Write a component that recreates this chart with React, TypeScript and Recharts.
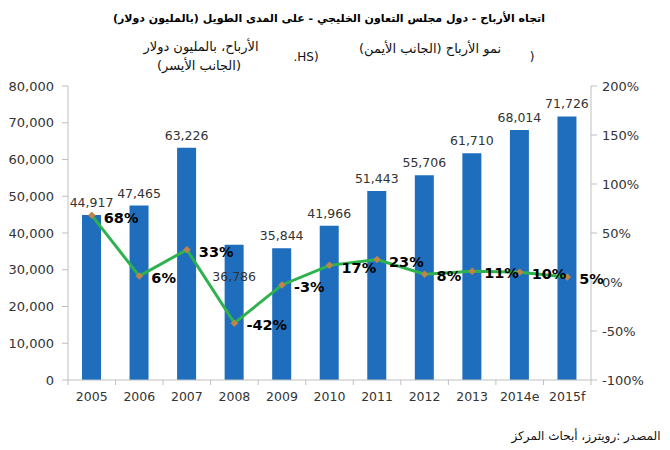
import React from 'react';
import { ComposedChart, Bar, Line, XAxis, YAxis, LabelList } from 'recharts';

// Categories and series
const years = ['2005', '2006', '2007', '2008', '2009', '2010', '2011', '2012', '2013', '2014e', '2015f'];
const profits = [44917, 47465, 63226, 36786, 35844, 41966, 51443, 55706, 61710, 68014, 71726];
const growth = [68, 6, 33, -42, -3, 17, 23, 8, 11, 10, 5];

// Axis ticks
const profitTicks = [0, 10000, 20000, 30000, 40000, 50000, 60000, 70000, 80000];
const growthTicks = [-100, -50, 0, 50, 100, 150, 200];

const data = years.map((year, i) => ({ year, profit: profits[i], growth: growth[i] }));

const W = 670;
const H = 450;
const NUM_FONT = "'DejaVu Sans', Verdana, sans-serif";
const AR_FONT = "'DejaVu Sans', Arial, sans-serif";
const BAR_COLOR = '#1F6EBD';
const LINE_COLOR = '#2DB24E';
const MARKER_COLOR = '#C0834A';
const AXIS_COLOR = '#BFBFBF';
const TEXT_COLOR = '#333333';

const X_TICK_SIZE = 5;
const X_TICK_MARGIN = 7;

const fmtThousands = (v: number) => v.toLocaleString('en-US');

// Year label with tick marks sitting between categories
const YearTick = (props: any) => {
  const { x, y, payload, index } = props;
  const half = payload && typeof payload.offset === 'number' && payload.offset > 0 ? payload.offset : 23.8;
  const axisY = y - X_TICK_SIZE - X_TICK_MARGIN;
  const isLast = index === years.length - 1;
  return (
    <g>
      <line x1={x - half} x2={x - half} y1={axisY} y2={axisY + 5} stroke={AXIS_COLOR} />
      {isLast && <line x1={x + half} x2={x + half} y1={axisY} y2={axisY + 5} stroke={AXIS_COLOR} />}
      <text x={x} y={y} dy="0.71em" textAnchor="middle" fontSize={12.5} fill={TEXT_COLOR} fontFamily={NUM_FONT}>
        {payload.value}
      </text>
    </g>
  );
};

// Value label above each bar; the 2008 label drops below the bar top to clear the line
const ProfitLabel = (props: any) => {
  const { x, y, width, value, index } = props;
  const lowered = years[index] === '2008';
  const cx = Number(x) + Number(width) / 2;
  const ty = lowered ? Number(y) + 36 : Number(y) - 8;
  return (
    <text x={cx} y={ty} textAnchor="middle" fontSize={12.5} fill={TEXT_COLOR} fontFamily={NUM_FONT}>
      {fmtThousands(Number(value))}
    </text>
  );
};

// Bold percentage to the right of each growth point
const GrowthLabel = (props: any) => {
  const { x, y, value } = props;
  return (
    <text x={Number(x) + 12} y={Number(y) + 2} dy="0.36em" fontSize={14.5} fontWeight="bold" fill="#000" fontFamily={NUM_FONT}>
      {`${value}%`}
    </text>
  );
};

const DiamondDot = (props: any) => {
  const { cx, cy, index } = props;
  if (cx == null || cy == null) return <g key={`d-${index}`} />;
  const r = 3.5;
  return (
    <polygon
      key={`d-${index}`}
      points={`${cx},${cy - r} ${cx + r},${cy} ${cx},${cy + r} ${cx - r},${cy}`}
      fill={MARKER_COLOR}
      stroke={MARKER_COLOR}
      strokeWidth={0.5}
    />
  );
};

export default function App() {
  return (
    <div style={{ position: 'absolute', left: 0, top: 0, width: W, height: H, background: '#fff' }}>
      <ComposedChart width={W} height={H} data={data} margin={{ top: 86, right: 0, bottom: 40, left: 0 }}>
        <XAxis
          dataKey="year"
          xAxisId="x"
          height={30}
          axisLine={{ stroke: AXIS_COLOR }}
          tickLine={false}
          tickSize={X_TICK_SIZE}
          tickMargin={X_TICK_MARGIN}
          tick={<YearTick />}
          interval={0}
        />
        <YAxis
          yAxisId="left"
          domain={[0, 80000]}
          ticks={profitTicks}
          tickFormatter={fmtThousands}
          width={68}
          tickSize={6}
          tickMargin={8}
          axisLine={{ stroke: AXIS_COLOR }}
          tickLine={{ stroke: AXIS_COLOR }}
          tick={{ fill: TEXT_COLOR, fontSize: 13, fontFamily: NUM_FONT }}
        />
        <YAxis
          yAxisId="right"
          orientation="right"
          domain={[-100, 200]}
          ticks={growthTicks}
          tickFormatter={(v: number) => `${v}%`}
          width={79}
          tickSize={6}
          tickMargin={5}
          axisLine={{ stroke: AXIS_COLOR }}
          tickLine={{ stroke: AXIS_COLOR }}
          tick={{ fill: TEXT_COLOR, fontSize: 13, fontFamily: NUM_FONT }}
        />
        <Bar dataKey="profit" xAxisId="x" yAxisId="left" fill={BAR_COLOR} barSize={19} isAnimationActive={false}>
          <LabelList dataKey="profit" content={<ProfitLabel />} />
        </Bar>
        <Line
          dataKey="growth"
          xAxisId="x"
          yAxisId="right"
          type="linear"
          stroke={LINE_COLOR}
          strokeWidth={3}
          dot={<DiamondDot />}
          activeDot={false}
          isAnimationActive={false}
        >
          <LabelList dataKey="growth" content={<GrowthLabel />} />
        </Line>
      </ComposedChart>
      <svg width={W} height={H} style={{ position: 'absolute', left: 0, top: 0, pointerEvents: 'none' }}>
        <text x={329} y={22} textAnchor="middle" direction="rtl" fontSize={11} fontWeight="bold" fill="#000" fontFamily={AR_FONT}>
          اتجاه الأرباح - دول مجلس التعاون الخليجي - على المدى الطويل (بالمليون دولار)
        </text>
        <text x={430} y={53} textAnchor="middle" direction="rtl" fontSize={13} fill="#111" fontFamily={AR_FONT}>
          نمو الأرباح (الجانب الأيمن)
        </text>
        <text x={532} y={61} textAnchor="middle" direction="ltr" fontSize={12} fill="#111" fontFamily={AR_FONT}>
          )
        </text>
        <text x={306} y={61} textAnchor="middle" direction="ltr" fontSize={12} fill="#111" fontFamily={AR_FONT}>
          .HS)
        </text>
        <text x={201} y={51} textAnchor="middle" direction="rtl" fontSize={13} fill="#111" fontFamily={AR_FONT}>
          الأرباح، بالمليون دولار
        </text>
        <text x={199} y={70} textAnchor="middle" direction="rtl" fontSize={13} fill="#111" fontFamily={AR_FONT}>
          (الجانب الأيسر)
        </text>
        <text x={586} y={440} textAnchor="middle" direction="rtl" fontSize={12} fill="#111" fontFamily={AR_FONT}>
          المصدر :رويترز، أبحاث المركز
        </text>
      </svg>
    </div>
  );
}
